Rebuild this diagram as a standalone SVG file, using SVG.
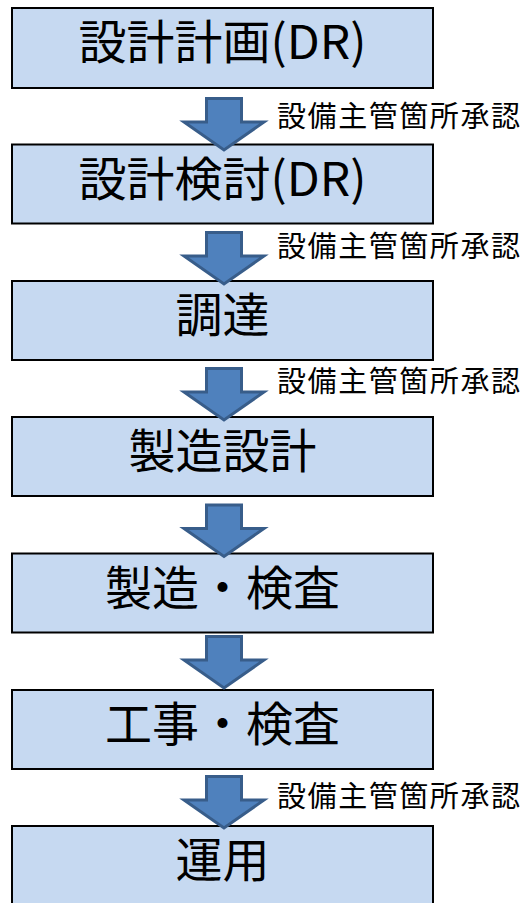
<svg xmlns="http://www.w3.org/2000/svg" width="528" height="903" viewBox="0 0 528 903">
<style>
.box{fill:#c6d9f1;stroke:#000;stroke-width:2}
.t{font-family:"Noto Sans CJK JP","Noto Sans",sans-serif;font-size:47px;fill:#000;text-anchor:middle}
.lbl{font-family:"Noto Sans CJK JP","Noto Sans",sans-serif;font-size:29px;fill:#000}
.arr{fill:#4f81bd;stroke:#385d8a;stroke-width:3;stroke-linejoin:miter}
</style>
<defs>
<path id="da" d="M-17.5,1.5 H17.5 V25 H40 L0,53 L-40,25 H-17.5 Z"/>
</defs>
<rect width="528" height="903" fill="#fff"/>
<g id="n1"><rect class="box" x="12" y="8" width="421" height="80"/><text class="t" x="222.5" y="59" textLength="288" lengthAdjust="spacingAndGlyphs">設計計画(DR)</text></g>
<g id="n2"><rect class="box" x="12" y="144.5" width="421" height="79"/><text class="t" x="222.5" y="195.5" textLength="288" lengthAdjust="spacingAndGlyphs">設計検討(DR)</text></g>
<g id="n3"><rect class="box" x="12" y="281" width="421" height="79"/><text class="t" x="222.5" y="332">調達</text></g>
<g id="n4"><rect class="box" x="12" y="417" width="421" height="79"/><text class="t" x="222.5" y="468">製造設計</text></g>
<g id="n5"><rect class="box" x="12" y="553.5" width="421" height="79"/><text class="t" x="222.5" y="604.5">製造・検査</text></g>
<g id="n6"><rect class="box" x="12" y="690" width="421" height="79"/><text class="t" x="222.5" y="741">工事・検査</text></g>
<g id="n7"><rect class="box" x="12" y="826" width="421" height="79"/><text class="t" x="222.5" y="877">運用</text></g>
<g id="connectors">
<use href="#da" class="arr" transform="translate(224,97)"/>
<use href="#da" class="arr" transform="translate(224,231)"/>
<use href="#da" class="arr" transform="translate(224,367)"/>
<use href="#da" class="arr" transform="translate(224,503.5)"/>
<use href="#da" class="arr" transform="translate(224,635)"/>
<use href="#da" class="arr" transform="translate(224,775)"/>
<text class="lbl" x="277" y="127" textLength="243" lengthAdjust="spacing">設備主管箇所承認</text>
<text class="lbl" x="277" y="257" textLength="243" lengthAdjust="spacing">設備主管箇所承認</text>
<text class="lbl" x="277" y="392" textLength="243" lengthAdjust="spacing">設備主管箇所承認</text>
<text class="lbl" x="277" y="807" textLength="243" lengthAdjust="spacing">設備主管箇所承認</text>
</g>
</svg>
